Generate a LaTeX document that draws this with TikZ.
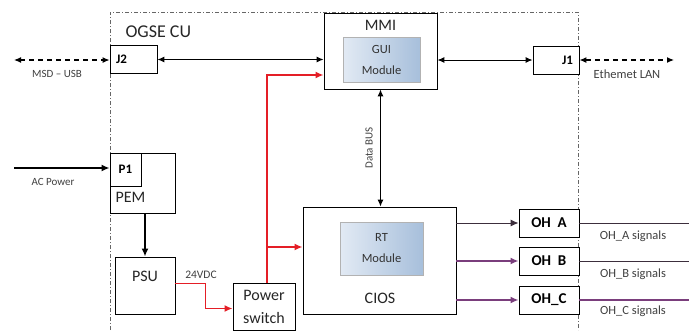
\documentclass[tikz,border=0pt]{standalone}
\usepackage{fontspec}
\setmainfont{Carlito}
\usetikzlibrary{arrows.meta}
\definecolor{pwrred}{HTML}{E41E26}
\definecolor{ohpurple}{HTML}{7A3E7C}
\definecolor{ohdark}{HTML}{3C2E3C}
\definecolor{modlight}{HTML}{E2EAF4}
\definecolor{moddark}{HTML}{A7BFDB}
\tikzset{
    blk/.style={draw, line width=0.9pt, fill=white, inner sep=0pt},
    modbox/.style={draw=gray!60, left color=modlight, right color=moddark, inner sep=0pt, align=center, font=\fontsize{12.5}{21}\selectfont, text=black!80},
    frame/.style={line width=0.8pt, gray!80!black, dash pattern=on 4pt off 2pt on 1pt off 2pt},
    link/.style={line width=1pt, {Latex[length=7pt,width=6pt]}-{Latex[length=7pt,width=6pt]}},
    ext/.style={line width=1.2pt, dash pattern=on 5pt off 4pt, {Latex[length=7pt,width=6pt]}-{Latex[length=7pt,width=6pt]}},
    pwr/.style={line width=2pt, pwrred, -{Latex[length=8pt,width=7pt]}},
    sig/.style={line width=1.6pt, ohpurple, -{Latex[length=8pt,width=7pt]}},
    small/.style={font=\fontsize{11}{12}\selectfont, text=black!75},
    big/.style={font=\fontsize{16}{23}\selectfont, text=black!85},
    tag/.style={font=\bfseries\fontsize{13}{15}\selectfont}
}
\begin{document}
\begin{tikzpicture}[x=1pt, y=-1pt]
    \useasboundingbox (0,0) rectangle (689,330);
    %frame
    \draw[frame] (110,330) -- (110,12) -- (578,12) -- (578,330);
    \node[big, anchor=west] (cu) at (122,32) {\fontsize{18}{20}\selectfont OGSE CU};
    %mmi
    \node[blk, minimum width=113pt, minimum height=76pt] (mmi) at (380.5,51) {};
    \node[big] (mmit) at (380.5,25) {MMI};
    \node[modbox, minimum width=77pt, minimum height=45pt] (gui) at (381.5,59.5) {GUI\\Module};
    %connectors
    \node[blk, minimum width=47pt, minimum height=28pt] (j2) at (133.5,59.5) {};
    \node[tag, anchor=west] (j2t) at ([xshift=3pt]j2.west) {J2};
    \node[blk, minimum width=46pt, minimum height=28pt] (j1) at (556,60) {};
    \node[tag, anchor=east] (j1t) at ([xshift=-3pt]j1.east) {J1};
    \coordinate (usb) at (14,60);
    \coordinate (lan) at (674,60);
    \draw[ext] (usb) -- (usb -| j2.west);
    \node[small] (usbt) at (57,74) {MSD -- USB};
    \draw[link] (j2.east) -- (j2.east -| mmi.west);
    \draw[link] (mmi.east |- j1) -- (j1.west);
    \draw[ext] (j1.east) -- (j1.east -| lan);
    \node[small, font=\fontsize{12.5}{14}\selectfont] (lant) at (627,74) {Ethemet LAN};
    %power
    \node[blk, minimum width=65pt, minimum height=60pt] (pem) at (142.5,183) {};
    \node[blk, minimum width=31pt, minimum height=33pt] (p1) at (125.5,169.5) {};
    \node[tag] (p1t) at (p1) {P1};
    \node[big, anchor=west] (pemt) at (112,197) {PEM};
    \coordinate (ac) at (14,168);
    \draw[line width=1.8pt, -{Latex[length=8pt,width=7pt]}] (ac) -- (ac -| pem.west);
    \node[small] (act) at (53,182) {AC Power};
    \node[blk, minimum width=60pt, minimum height=57pt] (psu) at (145,285.5) {};
    \node[big] (psut) at (145,276) {PSU};
    \draw[line width=1.8pt, -{Latex[length=8pt,width=7pt]}] (psu.north |- pem.south) -- (psu.north);
    \node[blk, big, minimum width=62pt, minimum height=47pt, align=center] (sw) at (264,306.5) {Power\\switch};
    \draw[pwr, line width=1.6pt] ([yshift=2pt]psu.east) -- ++(30,0) |- ([yshift=-2pt]sw.west);
    \node[small, font=\fontsize{11.5}{12}\selectfont] (vdct) at (201,275) {24VDC};
    %cios
    \node[blk, minimum width=153pt, minimum height=107pt] (cios) at (379.5,260.5) {};
    \node[modbox, minimum width=83pt, minimum height=53pt] (rt) at (381.5,248.5) {RT\\Module};
    \node[big] (ciost) at (380,298) {CIOS};
    \coordinate (tap) at ([xshift=3pt]sw.north);
    \coordinate (br) at (tap |- 0,247);
    \draw[pwr] (tap) |- ([yshift=-24pt]mmi.west);
    \draw[pwr] (br) -- (br -| cios.west);
    \draw[link] (mmi.south) -- (mmi.south |- cios.north);
    \node[small, rotate=90] (bust) at (369,148) {Data BUS};
    %outputs
    \foreach \n/\t/\y in {oha/OH\ \ A/223, ohb/OH\ \ B/261, ohc/OH\_C/300} {
        \node[blk, minimum width=60pt, minimum height=28pt, font=\bfseries\fontsize{15}{17}\selectfont] (\n) at (549,\y) {\t};
    }
    \draw[line width=1pt, ohdark, -{Latex[length=8pt,width=7pt]}] (cios.east |- oha) -- (oha.west);
    \draw[sig] (cios.east |- ohb) -- (ohb.west);
    \draw[sig] (cios.east |- ohc) -- (ohc.west);
    \coordinate (outa) at (689,223);
    \coordinate (outb) at (689,261);
    \coordinate (outc) at (689,300);
    \draw[line width=1pt, ohdark] (oha.east) -- (outa);
    \draw[line width=1pt, ohdark] (ohb.east) -- (outb);
    \draw[line width=2pt, ohpurple] (ohc.east) -- (outc);
    \node[small, font=\fontsize{12.5}{14}\selectfont] (sigat) at (633,236) {OH\_A signals};
    \node[small, font=\fontsize{12.5}{14}\selectfont] (sigbt) at (633,274) {OH\_B signals};
    \node[small, font=\fontsize{12.5}{14}\selectfont] (sigct) at (633,311) {OH\_C signals};
\end{tikzpicture}
\end{document}
